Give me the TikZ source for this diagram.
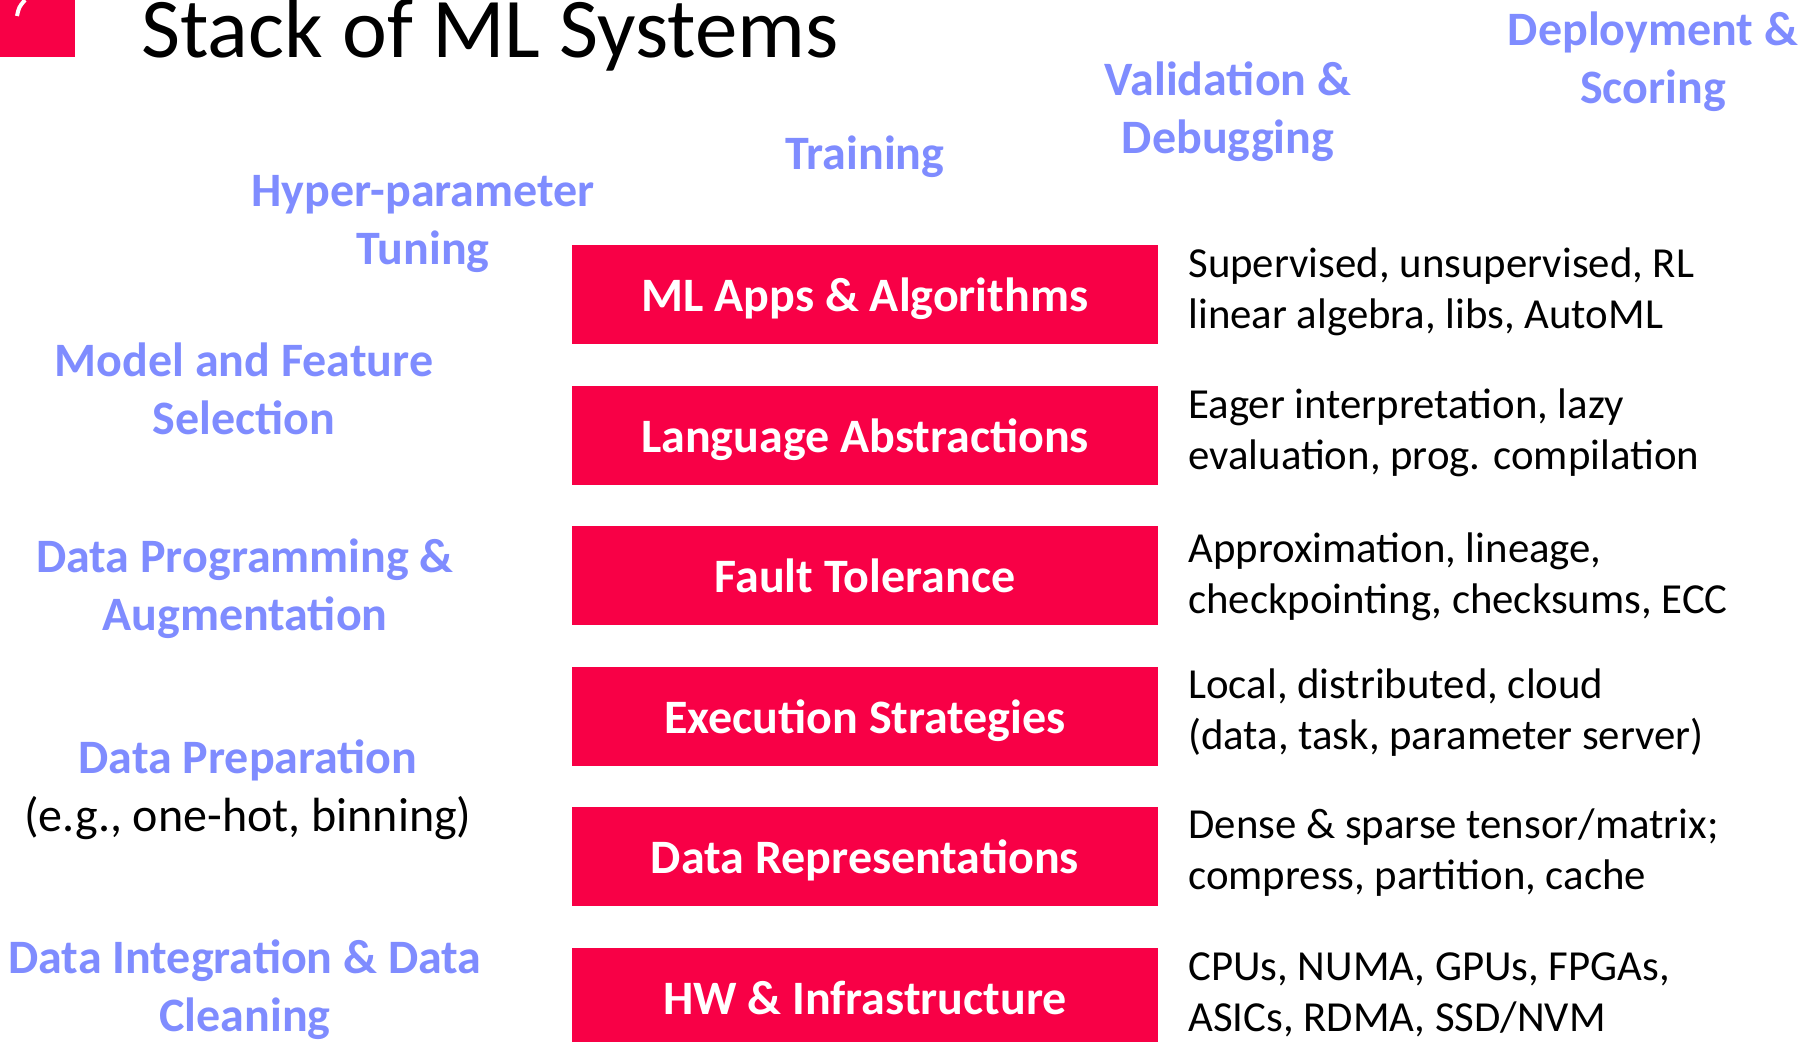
\documentclass[tikz,border=0pt]{standalone}
\usepackage{fontspec}
\setmainfont{Carlito}
\usetikzlibrary{shapes}
\definecolor{slidered}{HTML}{F80046}
\definecolor{stackblue}{HTML}{7F8CFF}
\tikzstyle{layer}=[fill=slidered, text=white, font=\bfseries\fontsize{24}{30}\selectfont,
    minimum width=293pt, minimum height=49.5pt, inner sep=0pt, text depth=0pt]
\tikzstyle{task}=[text=stackblue, font=\bfseries\fontsize{24}{28.8}\selectfont,
    align=center, inner sep=0pt, anchor=base]
\tikzstyle{detail}=[font=\fontsize{21.4}{25.3}\selectfont, align=left,
    inner sep=0pt, anchor=base west]
\begin{document}
\begin{tikzpicture}[x=0.5pt, y=-0.5pt]
\useasboundingbox (0,0) rectangle (1806,1041);
\clip (0,0) rectangle (1806,1041);
% slide corner and title
\fill [slidered] (0,0) rectangle (75,57);
\draw [white, line width=2] (25,0) .. controls (19,7) .. (17,16);
\path (141,57) node [anchor=base west, inner sep=0pt, font=\fontsize{42.5}{50}\selectfont] (title) {Stack of ML Systems};
% stack layers
\path (865,294.5) node [layer] (apps) {ML Apps \& Algorithms};
\path (865,435.5) node [layer] (lang) {Language Abstractions};
\path (865,575.5) node [layer] (fault) {Fault Tolerance};
\path (865,716.5) node [layer] (exec) {Execution Strategies};
\path (865,856.5) node [layer] (repr) {Data Representations};
\path (865,997.5) node [layer] (hw) {HW \& Infrastructure};
% details (anchored at last line)
\path (1188,328) node [detail] (appsnote) {Supervised, unsupervised, RL\\linear algebra, libs, AutoML};
\path (1188,469) node [detail] (langnote) {Eager interpretation, lazy\\evaluation, prog. compilation};
\path (1188,613) node [detail] (faultnote) {Approximation, lineage,\\checkpointing, checksums, ECC};
\path (1188,749) node [detail] (execnote) {Local, distributed, cloud\\(data, task, parameter server)};
\path (1188,889) node [detail] (reprnote) {Dense \& sparse tensor/matrix;\\compress, partition, cache};
\path (1188,1031) node [detail] (hwnote) {CPUs, NUMA, GPUs, FPGAs,\\ASICs, RDMA, SSD/NVM};
% lifecycle tasks
\path (1653,103) node [task] (deploy) {Deployment \&\\Scoring};
\path (1228,153) node [task] (valid) {Validation \&\\Debugging};
\path (865,169) node [task] (train) {Training};
\path (423,264) node [task] (hyper) {Hyper-parameter\\Tuning};
\path (244,434) node [task] (model) {Model and Feature\\Selection};
\path (245,630) node [task] (dprog) {Data Programming \&\\Augmentation};
\path (248,831) node [task] (dprep) {Data Preparation\\{\mdseries\color{black}(e.g., one-hot, binning)}};
\path (245,1031) node [task] (dinteg) {Data Integration \& Data\\Cleaning};
\end{tikzpicture}
\end{document}
